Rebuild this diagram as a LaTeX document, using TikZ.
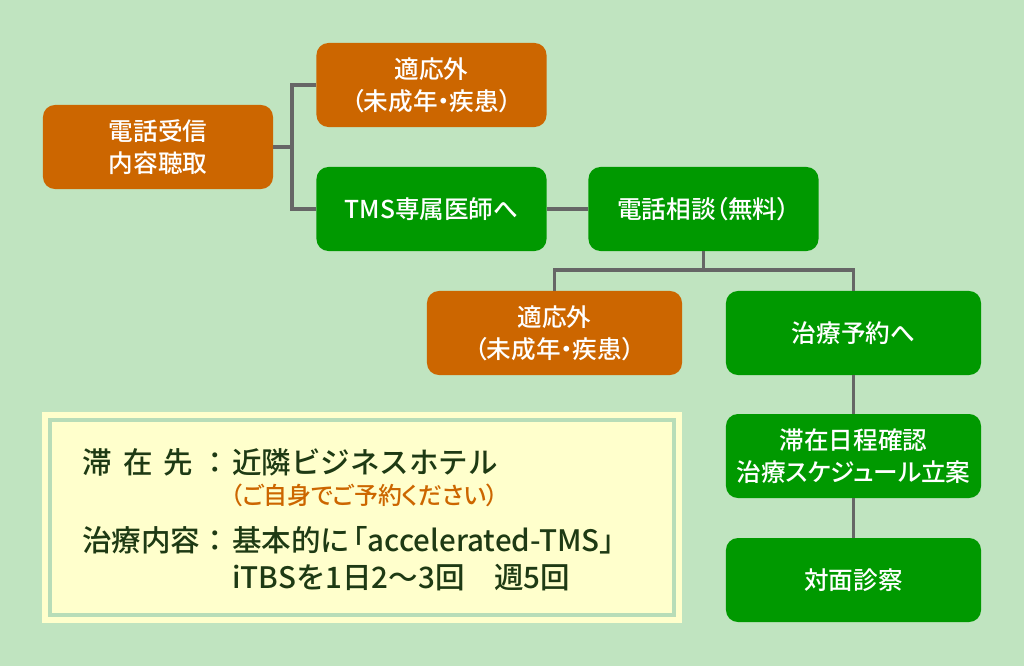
\documentclass[tikz,border=0pt]{standalone}
\usepackage{fontspec}
\setmainfont{Noto Sans CJK JP Medium}[RawFeature={+palt}]
\newfontfamily\infofont{Noto Sans CJK JP Medium}
\newfontfamily\infopalt{Noto Sans CJK JP Medium}[RawFeature={+palt}]
\definecolor{bggreen}{HTML}{C0E4C0}
\definecolor{boxorange}{HTML}{CC6600}
\definecolor{boxgreen}{HTML}{009900}
\definecolor{linegray}{HTML}{666666}
\definecolor{notefill}{HTML}{FFFFCC}
\definecolor{noteline}{HTML}{B8DDB8}
\definecolor{notetext}{HTML}{1E3A14}
\begin{document}
\begin{tikzpicture}[x=0.025cm,y=-0.025cm,
  box/.style={rounded corners=0.3cm, text=white, align=center,
    minimum width=5.75cm, minimum height=2.1cm, inner sep=0pt,
    font=\fontsize{17.5}{23}\selectfont},
  orangebox/.style={box, fill=boxorange},
  greenbox/.style={box, fill=boxgreen},
  widebox/.style={minimum width=6.375cm},
  conn/.style={draw=linegray, line width=2.2pt},
  info/.style={anchor=west, inner sep=0pt, text=notetext,
    font=\infofont\fontsize{21}{25}\selectfont}]
\useasboundingbox (0,0) rectangle (1024,666);
\fill[bggreen] (0,0) rectangle (1024,666);
  % upper row
  \node[orangebox] (tel) at (158,147) {電話受信\\内容聴取};
  \node[orangebox] (ng1) at (431.5,85) {適応外\\（未成年・疾患）};
  \node[greenbox] (tms) at (431.5,209) {TMS専属医師へ};
  \node[greenbox] (soudan) at (703.5,209) {電話相談（無料）};
  % lower part
  \node[orangebox, widebox] (ng2) at (554.5,333) {適応外\\（未成年・疾患）};
  \node[greenbox, widebox] (yoyaku) at (853.5,333) {治療予約へ};
  \node[greenbox, widebox] (nittei) at (853.5,456) {滞在日程確認\\治療スケジュール立案};
  \node[greenbox, widebox] (shinsatsu) at (853.5,580) {対面診察};
  \coordinate (j1) at (292,147);
  \coordinate (j2) at (703.5,270);
  \draw[conn] (tel.east) -- (j1);
  \draw[conn] (ng1.west) -| (j1) |- (tms.west);
  \draw[conn] (tms.east) -- (soudan.west);
  \draw[conn] (soudan.south) -- (j2);
  \draw[conn] (ng2.north) |- (j2) -| (yoyaku.north);
  \draw[conn] (yoyaku.south) -- (nittei.north);
  \draw[conn] (nittei.south) -- (shinsatsu.north);
  % info panel
  \fill[notefill] (42,412) rectangle (682,623);
  \draw[noteline, line width=2.2pt] (50,420) rectangle (674,615);
  \node[info] (stay) at (82,462) {\makebox[2.96cm][l]{滞\hspace{0.28cm}在\hspace{0.28cm}先}：};
  \node[info] (hotel) at (232,462) {近隣ビジネスホテル};
  \node[info, text=boxorange, font=\infopalt\fontsize{17}{20}\selectfont] (self) at (230,495) {（ご自身でご予約ください）};
  \node[info] (treat) at (82,540) {治療内容：};
  \node[info] (accel) at (232,540) {基本的に\hspace{-0.3cm}「accelerated-TMS」};
  \node[info] (itbs) at (232,578) {iTBSを1日2～3回　週5回};
\end{tikzpicture}
\end{document}
